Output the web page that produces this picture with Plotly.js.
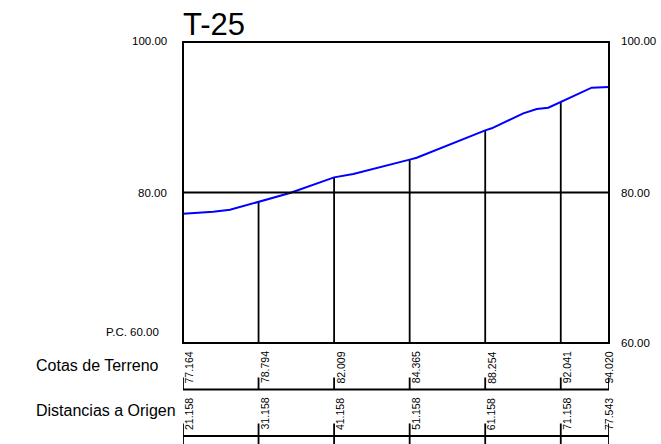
<!DOCTYPE html>
<html>
<head>
<meta charset="utf-8">
<script src="https://cdn.plot.ly/plotly-3.0.1.min.js"></script>
<style>html,body{margin:0;padding:0;background:#fff;}#chart{width:661px;height:444px;}</style>
</head>
<body>
<div id="chart"></div>
<script>
// ---- data ----
var chartTitle = 'T-25';
var stationDist = [21.158, 31.158, 41.158, 51.158, 61.158, 71.158, 77.543];
var stationElev = [77.164, 78.794, 82.009, 84.365, 88.254, 92.041, 94.020];
var profileDist = [21.158, 23.41, 25.17, 27.38, 31.158, 35.32, 41.158, 43.70, 51.158, 52.09, 61.158, 62.02, 66.20, 67.98, 69.51, 71.158, 75.25, 77.543];
var profileElev = [77.164, 77.27, 77.45, 77.70, 78.794, 79.93, 82.009, 82.46, 84.365, 84.62, 88.254, 88.53, 90.52, 91.10, 91.27, 92.041, 93.93, 94.020];
var datumElev = 60;
var topElev = 100;
var midElev = 80;
var leftLabels = ['100.00', '80.00', 'P.C. 60.00'];
var rightLabels = ['100.00', '80.00', '60.00'];
var labelElevs = [100, 80, 60];
var rowNames = ['Cotas de Terreno', 'Distancias a Origen'];

// ---- build ----
var FONT = 'Liberation Sans, Arial, sans-serif';
var vx = [], vy = [];
for (var i = 0; i < stationDist.length; i++) {
  vx.push(stationDist[i], stationDist[i], null);
  vy.push(stationElev[i], datumElev, null);
}
var traces = [
  {x: vx, y: vy, mode: 'lines', line: {color: '#000', width: 1.8}, hoverinfo: 'skip', showlegend: false},
  {x: profileDist, y: profileElev, mode: 'lines', line: {color: '#0000ff', width: 2}, showlegend: false}
];

var first = stationDist[0], last = stationDist[stationDist.length - 1];
var shapes = [
  {type: 'rect', xref: 'paper', yref: 'paper', x0: 0, x1: 1, y0: 0, y1: 1, line: {color: '#000', width: 2}},
  {type: 'line', xref: 'paper', yref: 'y', x0: 0, x1: 1, y0: midElev, y1: midElev, line: {color: '#000', width: 2}}
];
// table rows (paper y positions)
var rowLineY = [-0.1545, -0.3090];
var rowTickTop = [-0.1146, -0.2674];
var rowTickBot = [-0.1545, -0.37];
var rowTextY = [-0.1346, -0.2890];
var rowNameY = [-0.0731, -0.2253];
for (var r = 0; r < 2; r++) {
  shapes.push({type: 'line', xref: 'x', yref: 'paper', x0: first, x1: last, y0: rowLineY[r], y1: rowLineY[r], line: {color: '#000', width: 2}});
  for (var j = 0; j < stationDist.length; j++) {
    shapes.push({type: 'line', xref: 'x', yref: 'paper', x0: stationDist[j], x1: stationDist[j], y0: rowTickTop[r], y1: rowTickBot[r], line: {color: '#000', width: 1.8}});
  }
}

var ann = [];
var lblShift = [1.5, 0, 11.5];
for (var k = 0; k < 3; k++) {
  ann.push({text: leftLabels[k], xref: 'paper', yref: 'y', x: (k === 2 ? -0.0560 : -0.0376), y: labelElevs[k], yshift: lblShift[k],
            xanchor: 'right', yanchor: 'middle', showarrow: false, borderpad: 0, borderwidth: 0,
            font: {family: FONT, size: 11.5, color: '#000'}});
  ann.push({text: rightLabels[k], xref: 'paper', yref: 'y', x: 1.0282, y: labelElevs[k], yshift: (k === 0 ? 1.5 : 0),
            xanchor: 'left', yanchor: 'middle', showarrow: false, borderpad: 0, borderwidth: 0,
            font: {family: FONT, size: 11.5, color: '#000'}});
}
for (var r2 = 0; r2 < 2; r2++) {
  ann.push({text: rowNames[r2], xref: 'paper', yref: 'paper', x: -0.3462, y: rowNameY[r2], xanchor: 'left', yanchor: 'middle',
            showarrow: false, borderpad: 0, borderwidth: 0, font: {family: FONT, size: 16, color: '#000'}});
}
for (var m = 0; m < stationDist.length; m++) {
  var isLast = (m === stationDist.length - 1);
  ann.push({text: stationElev[m].toFixed(3), xref: 'x', yref: 'paper', x: stationDist[m], y: rowTextY[0], textangle: -90,
            xanchor: isLast ? 'center' : 'left', yanchor: 'bottom', showarrow: false, borderpad: 0, borderwidth: 0,
            font: {family: FONT, size: 10.5, color: '#000'}});
  ann.push({text: stationDist[m].toFixed(3), xref: 'x', yref: 'paper', x: stationDist[m], y: rowTextY[1], textangle: -90,
            xanchor: isLast ? 'center' : 'left', yanchor: 'bottom', showarrow: false, borderpad: 0, borderwidth: 0,
            font: {family: FONT, size: 10.5, color: '#000'}});
}

var layout = {
  width: 661, height: 444,
  margin: {l: 183, r: 52, t: 42, b: 101, pad: 0},
  paper_bgcolor: '#fff', plot_bgcolor: '#fff',
  title: {text: chartTitle, font: {family: FONT, size: 31, color: '#000'}, xref: 'paper', x: 0, xanchor: 'left',
          yref: 'paper', y: 1, yanchor: 'bottom', pad: {b: 7, t: 0, l: 0, r: 0}},
  xaxis: {range: [first, last], showgrid: false, zeroline: false, showticklabels: false, ticks: '', showline: false},
  yaxis: {range: [datumElev, topElev], showgrid: false, zeroline: false, showticklabels: false, ticks: '', showline: false},
  shapes: shapes,
  annotations: ann,
  showlegend: false
};
Plotly.newPlot('chart', traces, layout, {staticPlot: true, displayModeBar: false});
</script>
</body>
</html>
